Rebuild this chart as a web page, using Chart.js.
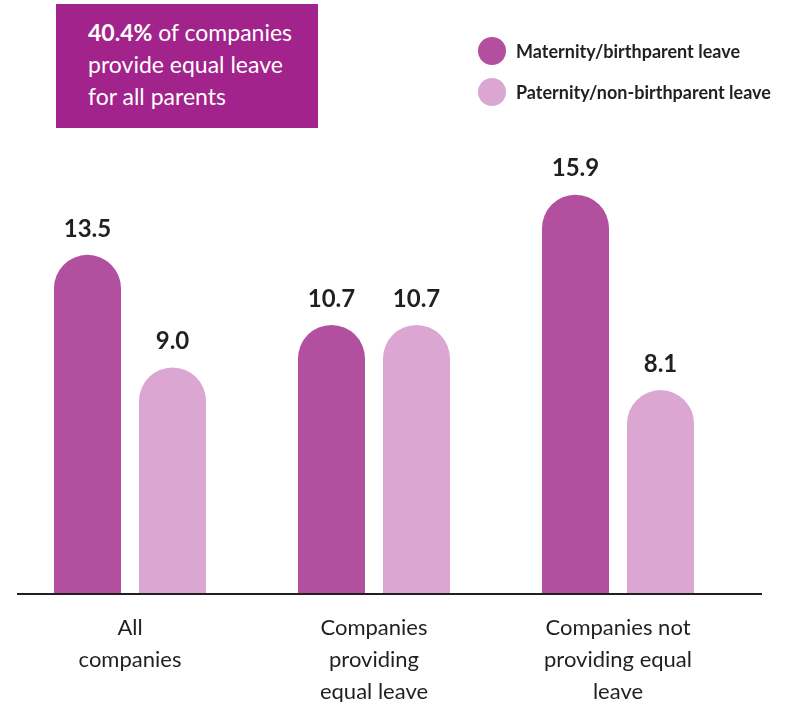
<!DOCTYPE html>
<html>
<head>
<meta charset="utf-8">
<script src="https://cdn.jsdelivr.net/npm/chart.js@4"></script>
<style>
  body { margin: 0; background: #fff; font-family: "Lato", "Liberation Sans", sans-serif; }
  #wrap { position: relative; width: 790px; height: 702px; }
  #callout {
    position: absolute; left: 56px; top: 4px; width: 230px; height: 112px;
    background: #a2238b; color: #fff; font-size: 23px; line-height: 32px;
    padding: 12px 0 0 32px; white-space: nowrap;
  }
  #callout b { font-weight: 700; }
  .leg { position: absolute; left: 478px; font-size: 18px; font-weight: 700; color: #231f20; line-height: 28px; white-space: nowrap; }
  .leg span { display: inline-block; width: 28px; height: 28px; border-radius: 50%; vertical-align: top; margin-right: 10px; }
</style>
</head>
<body>
<div id="wrap">
  <canvas id="chart" width="790" height="702"></canvas>
  <div id="callout"><b>40.4%</b> of companies<br>provide equal leave<br>for all parents</div>
  <div class="leg" style="top:37px"><span style="background:#b34f9f"></span>Maternity/birthparent leave</div>
  <div class="leg" style="top:78px"><span style="background:#dba7d2"></span>Paternity/non-birthparent leave</div>
</div>
<script>
const categories = [["All", "companies"], ["Companies", "providing", "equal leave"], ["Companies not", "providing equal", "leave"]];
const seriesNames = ["Maternity/birthparent leave", "Paternity/non-birthparent leave"];
const maternity = [13.5, 10.7, 15.9];
const paternity = [9.0, 10.7, 8.1];
const colors = ["#b34f9f", "#dba7d2"];

// value labels above bars
const valueLabels = {
  id: "valueLabels",
  afterDatasetsDraw(chart) {
    const ctx = chart.ctx;
    ctx.save();
    ctx.font = "bold 24px Lato, 'Liberation Sans', sans-serif";
    ctx.fillStyle = "#231f20";
    ctx.textAlign = "center";
    ctx.textBaseline = "middle";
    chart.data.datasets.forEach((ds, i) => {
      chart.getDatasetMeta(i).data.forEach((bar, j) => {
        ctx.fillText(ds.data[j].toFixed(1), bar.x, bar.y - 26);
      });
    });
    ctx.restore();
  }
};

// baseline wider than the plot area
const baseline = {
  id: "baseline",
  afterDraw(chart) {
    const ctx = chart.ctx;
    const y = chart.chartArea.bottom + 1;
    ctx.save();
    ctx.strokeStyle = "#231f20";
    ctx.lineWidth = 2;
    ctx.beginPath();
    ctx.moveTo(17, y);
    ctx.lineTo(762, y);
    ctx.stroke();
    ctx.restore();
  }
};

new Chart(document.getElementById("chart"), {
  type: "bar",
  data: {
    labels: categories,
    datasets: [
      { label: seriesNames[0], data: maternity, backgroundColor: colors[0] },
      { label: seriesNames[1], data: paternity, backgroundColor: colors[1] }
    ]
  },
  options: {
    responsive: false,
    animation: false,
    layout: { padding: { top: 92, left: 8, right: 50, bottom: 0 } },
    datasets: {
      bar: {
        categoryPercentage: 0.697,
        barPercentage: 0.788,
        borderRadius: { topLeft: 40, topRight: 40 },
        borderSkipped: "bottom"
      }
    },
    plugins: {
      legend: { display: false },
      tooltip: { enabled: false }
    },
    scales: {
      x: {
        grid: { display: false },
        border: { display: false },
        ticks: {
          color: "#231f20",
          font: { family: "Lato, 'Liberation Sans', sans-serif", size: 22, lineHeight: 1.45 },
          padding: 11,
          maxRotation: 0
        },
        afterFit(s) { s.height = 109; }
      },
      y: { display: false, min: 0, max: 20 }
    }
  },
  plugins: [valueLabels, baseline]
});
</script>
</body>
</html>
